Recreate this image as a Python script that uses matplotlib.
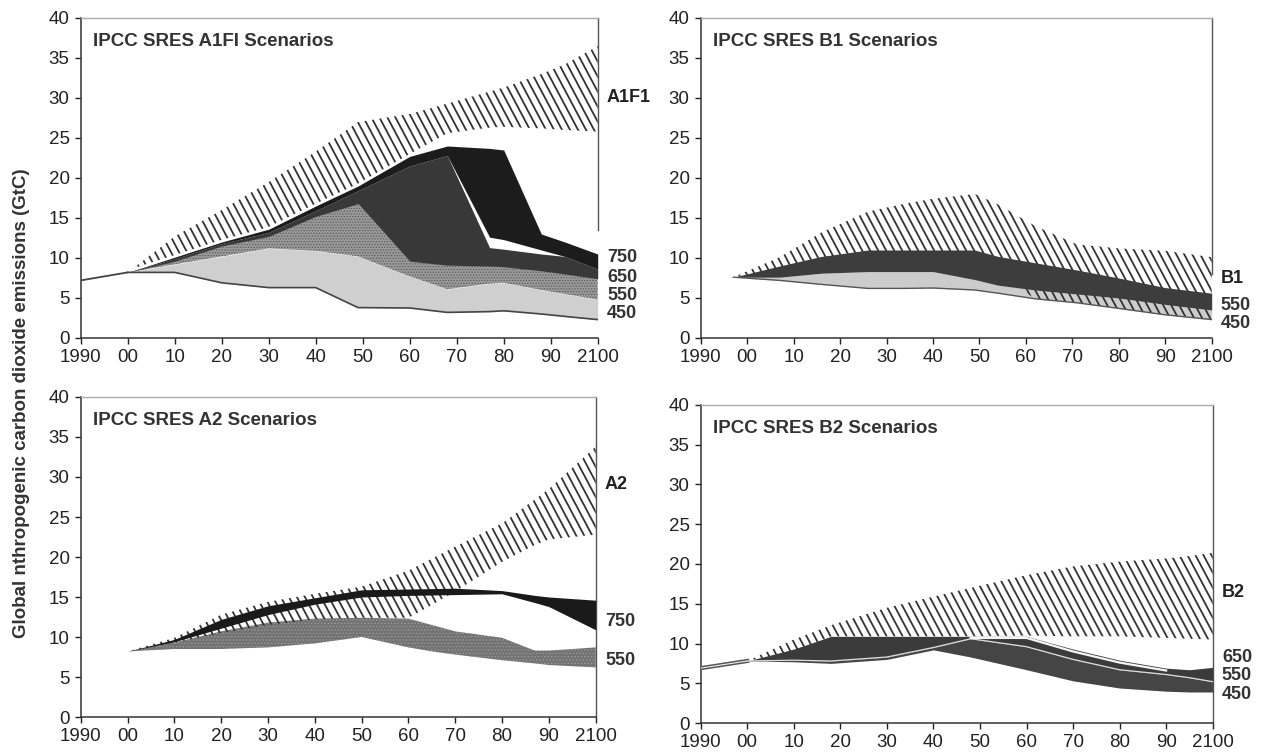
import matplotlib
matplotlib.use("Agg")
import numpy as np
import matplotlib.pyplot as plt
from matplotlib.patches import Polygon
from matplotlib.collections import LineCollection

plt.rcParams['font.family'] = ['Liberation Sans', 'DejaVu Sans']
plt.rcParams['hatch.linewidth'] = 0.6

# ---------------- data ----------------
xtick_vals = list(range(1990, 2101, 10))
xtick_labels = ['1990', '00', '10', '20', '30', '40', '50', '60', '70', '80', '90', '2100']
ytick_vals = list(range(0, 41, 5))
ylabel_text = 'Global nthropogenic carbon dioxide emissions (GtC)'

# A1FI panel
a1_hist_years = [1990, 2000]
a1_hist = [7.2, 8.2]
a1_years = [2000, 2010, 2020, 2030, 2040, 2049, 2060, 2068, 2077, 2080, 2088, 2093, 2100]
a1_450_lo = [8.2, 8.2, 6.9, 6.3, 6.3, 3.8, 3.75, 3.2, 3.3, 3.4, 3.0, 2.7, 2.3]
a1_450_hi = [8.2, 9.2, 10.2, 11.2, 10.9, 10.2, 7.7, 6.1, 6.8, 6.9, 6.0, 5.5, 4.8]
a1_550_hi = [8.2, 9.6, 11.5, 12.7, 15.2, 16.8, 9.6, 9.1, 9.0, 8.9, 8.4, 8.0, 7.4]
a1_650_hi = [8.2, 9.9, 11.8, 13.2, 15.9, 18.4, 21.5, 22.8, 11.3, 11.1, 10.5, 10.2, 8.6]
a1_750_lo = [8.2, 9.9, 11.8, 13.2, 15.9, 18.4, 21.5, 22.8, 12.6, 12.3, 11.0, 10.2, 8.6]
a1_750_hi = [8.2, 10.1, 12.0, 13.6, 16.5, 19.0, 22.7, 24.0, 23.7, 23.5, 13.0, 12.0, 10.5]
a1_sres_lo = [8.2, 9.8, 11.7, 13.2, 16.2, 18.8, 23.0, 25.6, 26.3, 26.4, 26.2, 26.0, 25.8]
a1_sres_hi = [8.2, 12.7, 16.0, 19.5, 23.3, 27.0, 28.0, 29.3, 30.8, 31.3, 33.0, 34.2, 36.5]
a1_labels = ['A1F1', '750', '650', '550', '450']
a1_label_y = [30.0, 10.0, 7.6, 5.3, 3.0]

# B1 panel
b1_years = [1997, 2007, 2016, 2026, 2034, 2040, 2049, 2054, 2062, 2071, 2080, 2090, 2100]
b1_450_lo = [7.6, 7.2, 6.7, 6.2, 6.2, 6.25, 6.0, 5.6, 4.9, 4.4, 3.7, 2.9, 2.3]
b1_450_hi = [7.6, 7.6, 8.1, 8.3, 8.3, 8.3, 7.3, 6.6, 6.0, 5.5, 5.0, 4.2, 3.5]
b1_550_hi = [7.6, 9.0, 10.2, 11.0, 11.0, 11.0, 11.0, 10.2, 9.4, 8.5, 7.5, 6.3, 5.6]
b1_sres_lo = [7.6, 8.5, 9.8, 10.6, 10.6, 10.6, 10.6, 8.0, 4.9, 4.4, 3.7, 2.9, 2.3]
b1_sres_hi = [7.6, 10.1, 13.2, 15.8, 16.8, 17.4, 18.0, 16.7, 14.0, 11.7, 11.2, 10.9, 10.1]
b1_labels = ['B1', '550', '450']
b1_label_y = [7.4, 4.1, 1.8]

# A2 panel
a2_years = [2000, 2010, 2020, 2030, 2040, 2050, 2060, 2065, 2070, 2080, 2087, 2090, 2100]
a2_750_lo = [8.2, 9.4, 11.1, 12.8, 14.1, 15.0, 15.2, 15.25, 15.3, 15.4, 14.3, 13.8, 10.9]
a2_750_hi = [8.2, 9.7, 12.2, 13.9, 14.9, 15.9, 16.0, 16.05, 16.1, 15.8, 15.2, 15.0, 14.6]
a2_550_lo = [8.2, 8.5, 8.5, 8.7, 9.2, 10.0, 8.7, 8.2, 7.8, 7.1, 6.7, 6.5, 6.2]
a2_550_hi = [8.2, 9.3, 10.7, 11.8, 12.3, 12.4, 12.3, 11.5, 10.7, 9.9, 8.3, 8.3, 8.7]
a2_sres_lo = [8.2, 9.3, 10.5, 11.5, 12.2, 12.4, 12.4, 14.0, 15.7, 19.4, 21.5, 22.2, 22.8]
a2_sres_hi = [8.2, 9.9, 12.8, 14.4, 15.4, 16.3, 18.3, 19.8, 21.3, 24.2, 27.2, 28.5, 33.8]
a2_labels = ['A2', '750', '550']
a2_label_y = [29.0, 11.9, 7.1]

# B2 panel
b2_hist_years = [1990, 2000]
b2_hist = [6.9, 7.8]
b2_years = [2000, 2010, 2018, 2030, 2040, 2048, 2060, 2070, 2080, 2090, 2095, 2100]
b2_top = [7.8, 9.3, 10.9, 10.9, 10.9, 10.9, 10.9, 9.3, 7.9, 6.9, 6.7, 7.0]
b2_gap = [7.8, 8.3, 9.0, 9.2, 9.5, 10.7, 10.7, 9.0, 7.6, 6.6, 6.4, 6.6]
b2_mid = [7.8, 7.9, 7.8, 8.3, 9.5, 10.6, 9.6, 8.0, 6.7, 6.1, 5.7, 5.2]
b2_bot = [7.8, 7.7, 7.5, 8.0, 9.2, 8.3, 6.7, 5.3, 4.4, 4.0, 3.9, 3.9]
b2_sres_lo = [7.8, 9.0, 10.9, 10.9, 10.9, 10.9, 11.0, 10.9, 10.9, 10.7, 10.6, 10.5]
b2_sres_hi = [7.8, 10.5, 12.3, 14.5, 15.9, 17.0, 18.6, 19.7, 20.3, 20.7, 21.0, 21.4]
b2_labels = ['B2', '650', '550', '450']
b2_label_y = [16.4, 8.3, 6.0, 3.6]

titles = ['IPCC SRES A1FI Scenarios', 'IPCC SRES B1 Scenarios',
          'IPCC SRES A2 Scenarios', 'IPCC SRES B2 Scenarios']

# ---------------- figure ----------------
W, H = 1261, 754
fig = plt.figure(figsize=(W / 100, H / 100), dpi=100)

pos = {
    'a1': [80.7 / W, 1 - 338 / H, 517 / W, 320 / H],
    'b1': [700.7 / W, 1 - 338 / H, 511 / W, 320 / H],
    'a2': [80.7 / W, 1 - 717 / H, 515 / W, 320 / H],
    'b2': [700.7 / W, 1 - 723 / H, 512 / W, 318 / H],
}


def setup(ax, title, right_bound=None):
    ax.set_xlim(1990, 2100)
    ax.set_ylim(0, 40)
    ax.set_xticks(xtick_vals)
    ax.set_xticklabels(xtick_labels)
    ax.set_yticks(ytick_vals)
    ax.tick_params(direction='out', length=4, width=1, labelsize=13.5, pad=4,
                   colors='#222222')
    for s in ['left', 'bottom']:
        ax.spines[s].set_color('#333333')
        ax.spines[s].set_linewidth(1.1)
    ax.spines['top'].set_color('#aaaaaa')
    ax.spines['top'].set_linewidth(1.0)
    ax.spines['right'].set_color('#555555')
    ax.spines['right'].set_linewidth(1.0)
    if right_bound is not None:
        ax.spines['right'].set_bounds(right_bound, 40)
    ax.text(0.024, 0.926, title, transform=ax.transAxes, fontsize=13.5,
            fontweight='bold', color='#333333', va='center', ha='left')


def add_hatch(ax, key, years, lo, hi, spacing_px=8.0, angle_deg=62,
              color='#333333', lw=1.3, zorder=2):
    verts = list(zip(years, lo)) + list(zip(years[::-1], hi[::-1]))
    poly = Polygon(verts, closed=True, transform=ax.transData,
                   facecolor='none', edgecolor='none')
    ax.add_patch(poly)
    wpx = pos[key][2] * W
    hpx = pos[key][3] * H
    dxa = (hpx / np.tan(np.radians(angle_deg))) / wpx
    step = spacing_px / wpx
    starts = np.arange(-dxa - step, 1 + step, step)
    segs = [[(s, 1.0), (s + dxa, 0.0)] for s in starts]
    lc = LineCollection(segs, colors=color, linewidths=lw,
                        transform=ax.transAxes, zorder=zorder)
    lc.set_clip_path(poly)
    ax.add_collection(lc, autolim=False)


def add_labels(ax, labels, ys):
    for i, (lab, y) in enumerate(zip(labels, ys)):
        col = '#222222' if i == 0 else '#333333'
        ax.text(1.018, y, lab, transform=ax.get_yaxis_transform(),
                fontsize=13, fontweight='bold', color=col,
                va='center', ha='left', clip_on=False)


# ---- A1FI ----
ax = fig.add_axes(pos['a1'])
setup(ax, titles[0], right_bound=13.5)
add_hatch(ax, 'a1', a1_years, a1_sres_lo, a1_sres_hi)
ax.plot(a1_years, a1_750_hi, color='white', lw=3.0, zorder=2.5)
ax.plot(a1_hist_years, a1_hist, color='#444444', lw=1.3, zorder=3)
ax.fill_between(a1_years, a1_450_lo, a1_450_hi, color='#cfcfcf', lw=0, zorder=3)
ax.fill_between(a1_years, a1_450_hi, a1_550_hi, facecolor='#9a9a9a',
                edgecolor='#5a5a5a', hatch='......', lw=0, zorder=3)
ax.fill_between(a1_years, a1_550_hi, a1_650_hi, color='#383838', lw=0, zorder=3)
ax.fill_between(a1_years, a1_750_lo, a1_750_hi, color='#1c1c1c', lw=0, zorder=3)
ax.plot(a1_years, a1_450_lo, color='#444444', lw=1.2, zorder=4)
add_labels(ax, a1_labels, a1_label_y)

# ---- B1 ----
ax = fig.add_axes(pos['b1'])
setup(ax, titles[1], right_bound=8.0)
ax.fill_between(b1_years, b1_450_lo, b1_450_hi, color='#cccccc', lw=0, zorder=2)
add_hatch(ax, 'b1', b1_years, b1_sres_lo, b1_sres_hi, zorder=3)
ax.fill_between(b1_years, b1_450_hi, b1_550_hi, color='#3d3d3d', lw=0, zorder=4)
ax.plot(b1_years, b1_450_lo, color='#555555', lw=1.0, zorder=4)
add_labels(ax, b1_labels, b1_label_y)

# ---- A2 ----
ax = fig.add_axes(pos['a2'])
setup(ax, titles[2])
ax.fill_between(a2_years, a2_550_lo, a2_550_hi, facecolor='#737373',
                edgecolor='#9a9a9a', hatch='.....', lw=0, zorder=2)
add_hatch(ax, 'a2', a2_years, a2_sres_lo, a2_sres_hi, zorder=3)
ax.fill_between(a2_years, a2_750_lo, a2_750_hi, color='#1a1a1a', lw=0, zorder=4)
add_labels(ax, a2_labels, a2_label_y)

# ---- B2 ----
ax = fig.add_axes(pos['b2'])
setup(ax, titles[3])
add_hatch(ax, 'b2', b2_years, b2_sres_lo, b2_sres_hi, zorder=2)
ax.plot(b2_hist_years, b2_hist, color='#555555', lw=3.0, zorder=3)
ax.plot(b2_hist_years, b2_hist, color='#eeeeee', lw=0.8, zorder=3)
ax.fill_between(b2_years, b2_mid, b2_top, color='#3b3b3b', lw=0, zorder=3)
ax.fill_between(b2_years, b2_bot, b2_mid, color='#454545', lw=0, zorder=3)
ax.plot(b2_years, b2_mid, color='#dddddd', lw=0.9, zorder=4)
ax.plot(b2_years[5:10], b2_gap[5:10], color='#f5f5f5', lw=1.6, zorder=4)
add_labels(ax, b2_labels, b2_label_y)

fig.text(21.7 / W, 1 - 403 / H, ylabel_text, rotation=90, fontsize=13.5,
         fontweight='bold', color='#333333', va='center', ha='center')

fig.savefig('out.png', dpi=100, facecolor='white')
